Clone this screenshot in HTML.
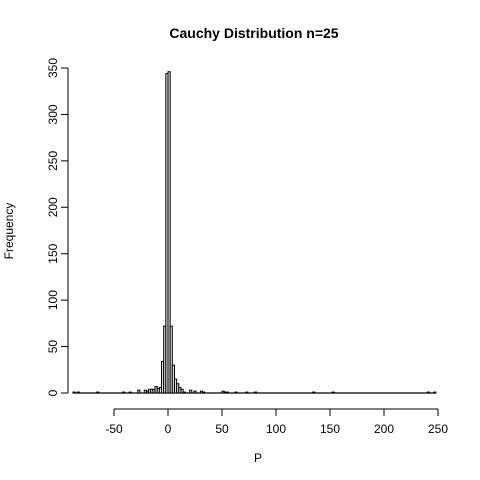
<!DOCTYPE html>
<html><head><meta charset="utf-8"><style>body{margin:0;background:#fff}svg{display:block}text{font-family:"Liberation Sans",Arial,sans-serif;fill:#000}</style></head>
<body>
<svg width="480" height="480" id="c">
<text x="254" y="38" text-anchor="middle" font-size="14" font-weight="bold">Cauchy Distribution n=25</text>
<text x="258" y="462" text-anchor="middle" font-size="12">P</text>
<text transform="translate(13,231) rotate(-90)" text-anchor="middle" font-size="12">Frequency</text>
<g id="bars"></g>
<g id="axes"></g>
</svg>
<script>
const binStarts=[-88,-84,-66,-42,-36,-28,-22,-20,-18,-16,-14,-12,-10,-8,-6,-4,-2,0,2,4,6,8,10,12,14,20,24,30,32,50,52,54,62,72,80,134,152,240,246];
const counts=[1,1,1,1,1,3,3,2,4,4,4,7,5,6,34,72,344,346,72,30,15,10,6,4,1,3,2,2,1,2,1,1,1,1,1,1,1,1,1];
const xTicks=[-50,0,50,100,150,200,250];
const yTicks=[0,50,100,150,200,250,300,350];
const binWidth=2;
const NS="http://www.w3.org/2000/svg";
const X=v=>168+v*1.08;
const Y=v=>393-v*(325/350);
const bars=document.getElementById('bars'),axes=document.getElementById('axes');
function mk(t,a,p){const e=document.createElementNS(NS,t);for(const k in a)e.setAttribute(k,a[k]);p.appendChild(e);return e;}
const bl=mk('line',{x1:X(binStarts[0]),x2:X(binStarts[binStarts.length-1]+binWidth),y1:Y(0),y2:Y(0),stroke:'#000','stroke-width':1.3},bars);


binStarts.forEach((s,i)=>{
  const r=mk('rect',{x:X(s),y:Y(counts[i]),width:X(s+binWidth)-X(s),height:Y(0)-Y(counts[i]),fill:'#e0e0e0',stroke:'#000','stroke-width':1},bars);
  
  
});
mk('line',{x1:X(-50),x2:X(250),y1:409,y2:409,stroke:'#000'},axes);
xTicks.forEach(t=>{
  mk('line',{x1:X(t),x2:X(t),y1:409,y2:416,stroke:'#000'},axes);
  const tx=mk('text',{x:X(t),y:433,'text-anchor':'middle','font-size':12},axes);
  tx.textContent=t;
  
  
});
mk('line',{x1:68,x2:68,y1:Y(0),y2:Y(350),stroke:'#000'},axes);
yTicks.forEach(t=>{
  mk('line',{x1:61,x2:68,y1:Y(t),y2:Y(t),stroke:'#000'},axes);
  const tx=mk('text',{transform:`translate(57,${Y(t)}) rotate(-90)`,'text-anchor':'middle','font-size':12},axes);
  tx.textContent=t;
  
  
});
</script>
</body></html>
